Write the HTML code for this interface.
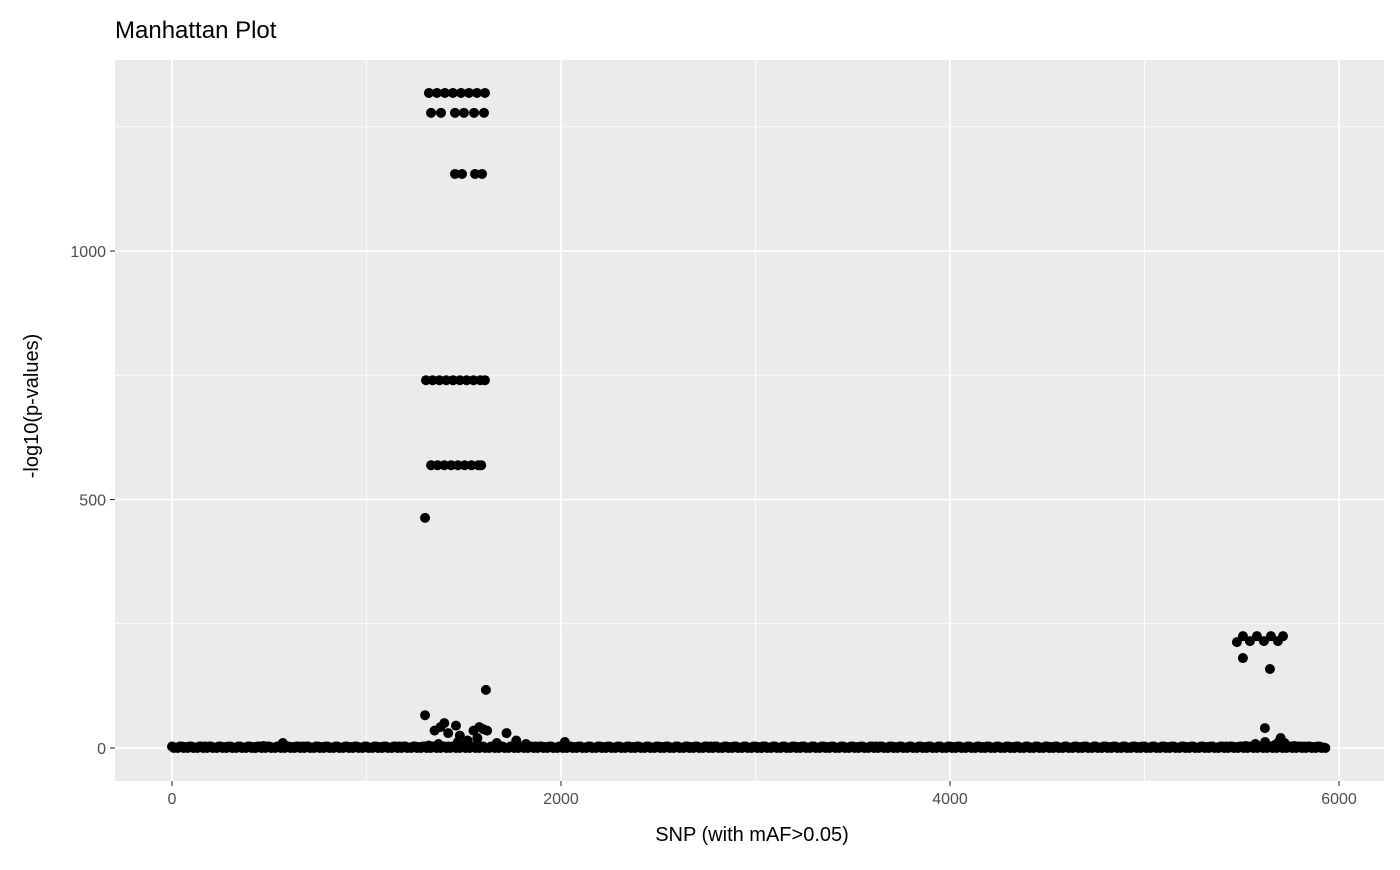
<!DOCTYPE html>
<html><head><meta charset="utf-8"><style>
body{margin:0;background:#fff;font-family:"Liberation Sans",Arial,sans-serif}
</style></head><body>
<svg width="1400" height="865" xmlns="http://www.w3.org/2000/svg">
<text x="115" y="38" font-size="24" fill="#000">Manhattan Plot</text>
<rect x="115" y="60" width="1269" height="721" fill="#ebebeb"/>
<g id="grid"></g>
<g id="pts"></g>
<g id="axes"></g>
<text x="752" y="841" font-size="20" text-anchor="middle">SNP (with mAF&gt;0.05)</text>
<text transform="translate(38,406) rotate(-90)" font-size="20" text-anchor="middle">-log10(p-values)</text>
</svg>
<script>
const xTicks=[0,2000,4000,6000];
const xMinor=[1000,3000,5000];
const yTicks=[0,500,1000];
const yMinor=[250,750,1250];
const baseVals=[1,2,1,3,1,2,1,1,2,4,1,10,2,3,1,2,1,1,2,1,1,2,1,3,1,2,5,8,3,12,6,20,35,10,30,15,8,3,2,1,12,2,1,1,2,1,1,2,1,1,2,1,1,2,1,3,1,2,1,1,2,1,1,1,2,1,1,2,1,1,2,1,3,1,2,1,1,2,1,1,2,1,1,2,1,1,2,1,1,1,2,1,1,2,1,1,2,1,1,2,1,1,2,1,2,1,2,1,3,2,4,8,12,6,10,4,3,2,1];
const baseStep=50;
const peakX=[1321,1362,1403,1444,1486,1527,1568,1609, 1332,1383,1455,1501,1553,1604, 1455,1491,1558,1594,
1306,1340,1375,1410,1445,1480,1515,1550,1585,1609, 1332,1365,1400,1435,1470,1505,1540,1575,1590,
1301,1614,1301,1350,1380,1400,1420,1460,1480,1520,1550,1580,1600,
5475,5506,5542,5578,5614,5650,5686,5712,5506,5645,5619,5700,5690];
const peakY=[1318,1318,1318,1318,1318,1318,1318,1318, 1278,1278,1278,1278,1278,1278, 1155,1155,1155,1155,
740,740,740,740,740,740,740,740,740,740, 569,569,569,569,569,569,569,569,569,
463,117,66,35,42,50,30,45,25,15,35,42,38,
213,225,215,225,215,225,215,225,181,159,40,20,12];
const X=v=>172+v*(1339-172)/6000;
const Y=v=>748-v*(748-251)/1000;
const NS="http://www.w3.org/2000/svg";
function mk(t,a,p){const e=document.createElementNS(NS,t);for(const k in a)e.setAttribute(k,a[k]);p.appendChild(e);return e;}
const g=document.getElementById('grid'),pts=document.getElementById('pts'),ax=document.getElementById('axes');
xMinor.forEach(v=>{const l=mk('line',{x1:X(v),x2:X(v),y1:60,y2:781,stroke:'#fff','stroke-width':0.8},g);

});
yMinor.forEach(v=>{const l=mk('line',{x1:115,x2:1384,y1:Y(v),y2:Y(v),stroke:'#fff','stroke-width':0.8},g);

});
xTicks.forEach(v=>{const l=mk('line',{x1:X(v),x2:X(v),y1:60,y2:781,stroke:'#fff','stroke-width':1.8},g);


const t=mk('line',{x1:X(v),x2:X(v),y1:781,y2:786,stroke:'#333','stroke-width':1.1},ax);


const tx=mk('text',{x:X(v),y:804,'font-size':16,fill:'#4d4d4d','text-anchor':'middle'},ax);tx.textContent=v;

});
yTicks.forEach(v=>{const l=mk('line',{x1:115,x2:1384,y1:Y(v),y2:Y(v),stroke:'#fff','stroke-width':1.8},g);


const t=mk('line',{x1:110,x2:115,y1:Y(v),y2:Y(v),stroke:'#333','stroke-width':1.1},ax);


const tx=mk('text',{x:106,y:Y(v)+6,'font-size':16,fill:'#4d4d4d','text-anchor':'end'},ax);tx.textContent=v;

});
for(let i=0;i<baseVals.length;i++){for(let j=0;j<5;j++){const xv=i*baseStep+j*baseStep/5;if(xv>5930)continue;
const c=mk('circle',{cx:X(xv),cy:Y(j===2?baseVals[i]:(j%2?0:3)),r:5,fill:'#000'},pts);

}}
peakX.forEach((xv,i)=>{const c=mk('circle',{cx:X(xv),cy:Y(peakY[i]),r:5,fill:'#000'},pts);

});
</script>
</body></html>
